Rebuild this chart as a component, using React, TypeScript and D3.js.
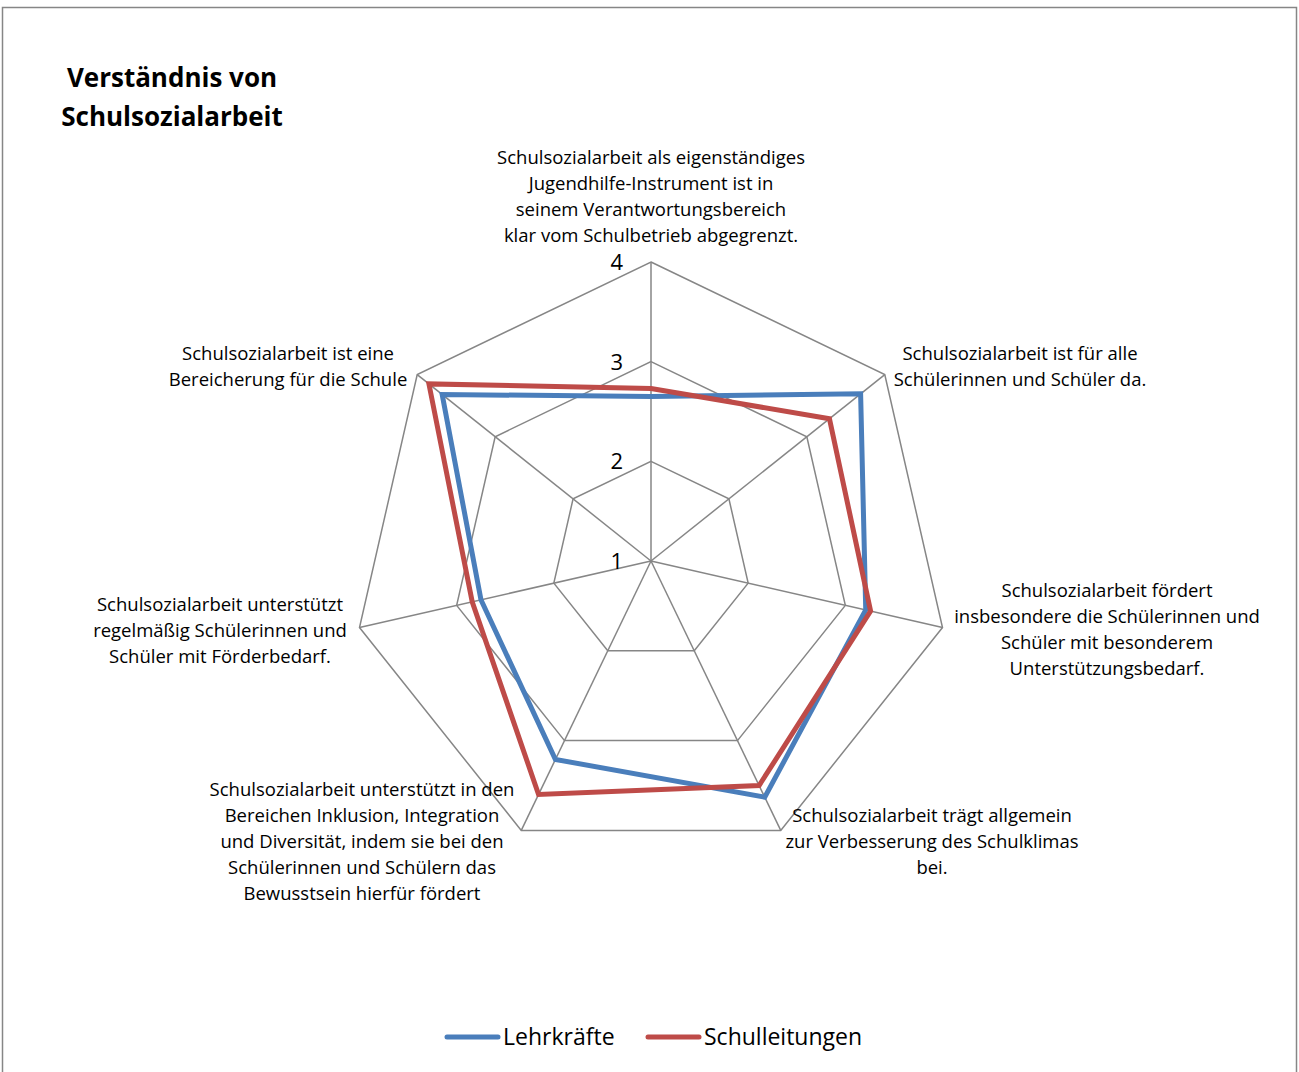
import React from 'react';
import * as d3 from 'd3';

// axis labels, clockwise from the top
const axisLabels = [
  ['Schulsozialarbeit als eigenständiges', 'Jugendhilfe-Instrument ist in', 'seinem Verantwortungsbereich', 'klar vom Schulbetrieb abgegrenzt.'],
  ['Schulsozialarbeit ist für alle', 'Schülerinnen und Schüler da.'],
  ['Schulsozialarbeit fördert', 'insbesondere die Schülerinnen und', 'Schüler mit besonderem', 'Unterstützungsbedarf.'],
  ['Schulsozialarbeit trägt allgemein', 'zur Verbesserung des Schulklimas', 'bei.'],
  ['Schulsozialarbeit unterstützt in den', 'Bereichen Inklusion, Integration', 'und Diversität, indem sie bei den', 'Schülerinnen und Schülern das', 'Bewusstsein hierfür fördert'],
  ['Schulsozialarbeit unterstützt', 'regelmäßig Schülerinnen und', 'Schüler mit Förderbedarf.'],
  ['Schulsozialarbeit ist eine', 'Bereicherung für die Schule'],
];

const lehrkraefte = [2.65, 3.69, 3.21, 3.63, 3.21, 2.75, 3.68];
const schulleitungen = [2.73, 3.29, 3.26, 3.5, 3.6, 2.84, 3.85];
const ticks = [1, 2, 3, 4];

const series = [
  { name: 'Lehrkräfte', values: lehrkraefte, color: '#4A7EBB' },
  { name: 'Schulleitungen', values: schulleitungen, color: '#BE4B48' },
];

// where each label block sits (center x, first line center y)
const labelPos: [number, number][] = [
  [651, 157], [1020, 353], [1107, 590], [932, 815], [362, 789], [220, 604], [288, 353],
];

const W = 1299;
const H = 1072;
const cx = 651;
const cy = 561;
const font = "'Open Sans', sans-serif";

export default function App() {
  const n = axisLabels.length;
  const r = d3.scaleLinear().domain([1, 4]).range([0, 299]);
  const angle = (i: number) => (i * 2 * Math.PI) / n;
  const pt = (i: number, v: number) => [r(v) * Math.sin(angle(i)), -r(v) * Math.cos(angle(i))];

  const radar = d3
    .lineRadial<number>()
    .angle((_, i) => angle(i))
    .radius(d => r(d))
    .curve(d3.curveLinearClosed);

  return (
    <svg width={W} height={H} style={{ position: 'absolute', left: 0, top: 0 }}>
      <rect x={2.5} y={7.5} width={1294} height={1080} fill="#fff" stroke="#868686" strokeWidth={1.5} />

      <g fontFamily={font} fontWeight="bold" fontSize={26} textAnchor="middle">
        <text x={172} y={87}>Verständnis von</text>
        <text x={172} y={126}>Schulsozialarbeit</text>
      </g>

      <g transform={`translate(${cx},${cy})`}>
        {ticks.slice(1).map(t => (
          <polygon
            key={t}
            points={d3.range(n).map(i => pt(i, t).join(',')).join(' ')}
            fill="none"
            stroke="#868686"
            strokeWidth={1.5}
          />
        ))}
        {d3.range(n).map(i => {
          const [x, y] = pt(i, 4);
          return <line key={i} x1={0} y1={0} x2={x} y2={y} stroke="#868686" strokeWidth={1.5} />;
        })}
        {ticks.map(t => (
          <text key={t} x={-28} y={-r(t) + 8} textAnchor="end" fontFamily={font} fontSize={22}>
            {t}
          </text>
        ))}
        {series.map(s => (
          <path
            key={s.name}
            d={radar(s.values) || ''}
            fill="none"
            stroke={s.color}
            strokeWidth={5}
            strokeLinejoin="miter"
          />
        ))}
      </g>

      <g fontFamily={font} fontSize={18.5} textAnchor="middle">
        {axisLabels.map((lines, i) => (
          <text key={i} x={labelPos[i][0]} y={labelPos[i][1] + 7}>
            {lines.map((l, j) => (
              <tspan key={j} x={labelPos[i][0]} dy={j === 0 ? 0 : 26}>
                {l}
              </tspan>
            ))}
          </text>
        ))}
      </g>

      <g fontFamily={font} fontSize={23}>
        {series.map((s, i) => {
          const x0 = 447 + i * 201;
          return (
            <g key={s.name}>
              <line x1={x0} y1={1037} x2={x0 + 51} y2={1037} stroke={s.color} strokeWidth={5} strokeLinecap="round" />
              <text x={x0 + 56} y={1045}>{s.name}</text>
            </g>
          );
        })}
      </g>
    </svg>
  );
}
